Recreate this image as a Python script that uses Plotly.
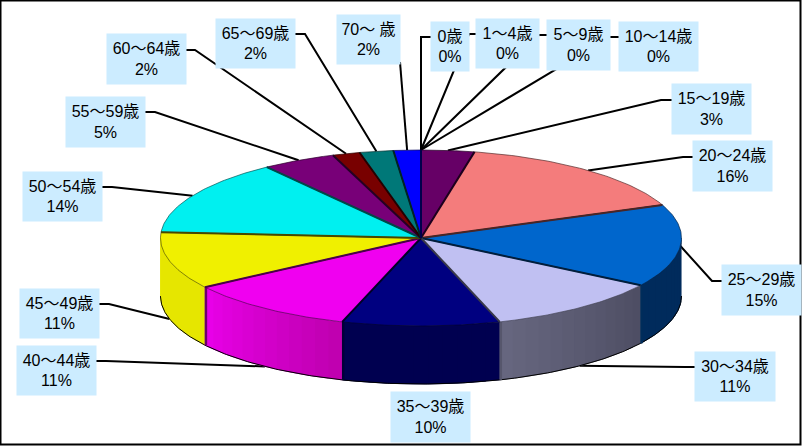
import numpy as np
import plotly.graph_objects as go

# age bands, clockwise from 12 o'clock
categories = ["0歳", "1～4歳", "5～9歳", "10～14歳", "15～19歳", "20～24歳", "25～29歳",
              "30～34歳", "35～39歳", "40～44歳", "45～49歳", "50～54歳", "55～59歳",
              "60～64歳", "65～69歳", "70～ 歳"]
values = [0, 0, 0, 0, 3.3, 15.6, 15.2, 11.1, 9.8, 10.7, 10.5, 13.9, 4.6, 1.7, 2.1, 1.7]
percent_labels = ["0%", "0%", "0%", "0%", "3%", "16%", "15%", "11%", "10%", "11%", "11%",
                  "14%", "5%", "2%", "2%", "2%"]
top_colors = ["#660066", "#F47C7C", "#0066CC", "#C0C0F2", "#000080", "#F000F0", "#F0F000",
              "#00F0F0", "#780078", "#780000", "#007878", "#0000FF"]
top_colors = ["#000000"] * 4 + top_colors
side_from = {6: "#002B5C", 7: "#4E4E64", 8: "#000050", 9: "#C000B0", 10: "#E6E600"}
side_to = {6: "#002B5C", 7: "#66667F", 8: "#000050", 9: "#E800E8", 10: "#E6E600"}

# label boxes: left, top, width, height in pixels
boxes = [(431, 22, 38, 49), (476, 19, 63, 49), (547, 20, 63, 50), (619, 22, 79, 49),
         (672, 84, 79, 50), (693, 141, 79, 50), (722, 265, 79, 50), (695, 352, 80, 49),
         (391, 392, 79, 50), (17, 346, 79, 49), (20, 289, 79, 49), (23, 172, 79, 49),
         (66, 97, 79, 50), (107, 34, 79, 50), (216, 19, 79, 49), (337, 15, 63, 49)]
# elbow of each leader: x where the flat stub ends, y of the stub
elbows = [(421, 37), (469, 34), (539, 35), (610, 37), (661, 100), (683, 157), (712, 281),
          (685, 367), None, (106, 361), (109, 304), (112, 187), (155, 112), (195, 50),
          (305, 34), None]

cx, cy, rx, ry, depth = 421, 238, 260.5, 88, 58


def px(a, r=1.0):
    return cx + rx * r * np.sin(np.radians(a))


def py(a, r=1.0):
    return cy - ry * r * np.cos(np.radians(a))


def hex_rgb(c):
    return np.array([int(c[i:i + 2], 16) for i in (1, 3, 5)], dtype=float)


def mix(c1, c2, t):
    v = hex_rgb(c1) * (1 - t) + hex_rgb(c2) * t
    return "rgb(%d,%d,%d)" % tuple(v)


def shade(c, f):
    return "rgb(%d,%d,%d)" % tuple(hex_rgb(c) * f)


edges = np.concatenate([[0], np.cumsum(values)]) / np.sum(values) * 360
fig = go.Figure()


def poly(x, y, fill=None, line="#000000", width=1.0):
    fig.add_trace(go.Scatter(x=x, y=y, mode="lines", fill="toself" if fill else "none",
                             fillcolor=fill, line=dict(color=line, width=width),
                             hoverinfo="skip", showlegend=False))


# leader lines go first so that the boxes cover them
for i, cat in enumerate(categories):
    if elbows[i] is None and i != 15:
        continue
    mid = (edges[i] + edges[i + 1]) / 2
    end_x, end_y = px(mid), py(mid)
    if 100 < mid < 260:
        end_y += depth
    left, top, w, h = boxes[i]
    if i == 15:
        xs, ys = [left + w, end_x], [top + h - 2, end_y]
    else:
        stub_x = left if elbows[i][0] < left else left + w
        xs, ys = [stub_x, elbows[i][0], end_x], [elbows[i][1], elbows[i][1], end_y]
    poly(xs, ys, width=2)

# outer walls, front half only; each strip runs under the next one to hide seams
for i in side_from:
    a0, a1 = max(edges[i], 90), min(edges[i + 1], 270)
    steps = np.linspace(a0, a1, max(int((a1 - a0) / 3), 2) + 1)
    for k in range(len(steps) - 1):
        col = mix(side_from[i], side_to[i], k / (len(steps) - 2 or 1))
        arc = np.linspace(steps[k], steps[min(k + 2, len(steps) - 1)], 8)
        xs = np.concatenate([px(arc), px(arc[::-1])])
        ys = np.concatenate([py(arc), py(arc[::-1]) + depth])
        poly(xs, ys, fill=col, line=col, width=0.5)
    arc = np.linspace(a0, a1, 60)
    poly(px(arc), py(arc) + depth, width=1)

for i in side_from:
    if edges[i + 1] < 270:
        a = edges[i + 1]
        poly([px(a) + 1, px(a) + 1], [py(a), py(a) + depth], line=shade(top_colors[i], 0.45), width=2.5)

# top faces
for i, col in enumerate(top_colors):
    if values[i] == 0:
        continue
    arc = np.linspace(edges[i], edges[i + 1], 60)
    poly(np.concatenate([[cx], px(arc), [cx]]), np.concatenate([[cy], py(arc), [cy]]),
         fill=col, line=shade(col, 0.35), width=0.7)

# dark seams between slices
for i, col in enumerate(top_colors):
    if values[i] == 0:
        continue
    a = edges[i + 1]
    poly([cx, px(a)], [cy, py(a)], line=shade(col, 0.3), width=2)

annotations = []
for i, cat in enumerate(categories):
    left, top, w, h = boxes[i]
    annotations.append(dict(x=left + w / 2, y=top + h / 2, xref="x", yref="y",
                            text=cat + "<br>" + percent_labels[i], showarrow=False,
                            width=w, height=h, bgcolor="#CCECFF", borderpad=0,
                            align="center", valign="middle",
                            font=dict(family="Liberation Sans, Noto Sans CJK JP", size=16, color="#000000")))

fig.update_layout(
    width=802, height=446, margin=dict(l=0, r=0, t=0, b=0),
    paper_bgcolor="#FFFFFF", plot_bgcolor="#FFFFFF", showlegend=False,
    xaxis=dict(range=[0, 802], visible=False, fixedrange=True),
    yaxis=dict(range=[446, 0], visible=False, fixedrange=True),
    annotations=annotations,
    shapes=[dict(type="rect", x0=0.5, y0=0.5, x1=800.5, y1=444.5, xref="x", yref="y",
                 line=dict(color="#000000", width=2))],
)
# drop the browser's default body margin so the figure fills the window
fig.write_html("out.html", config=dict(displayModeBar=False),
               post_script="document.body.style.margin='0';")
